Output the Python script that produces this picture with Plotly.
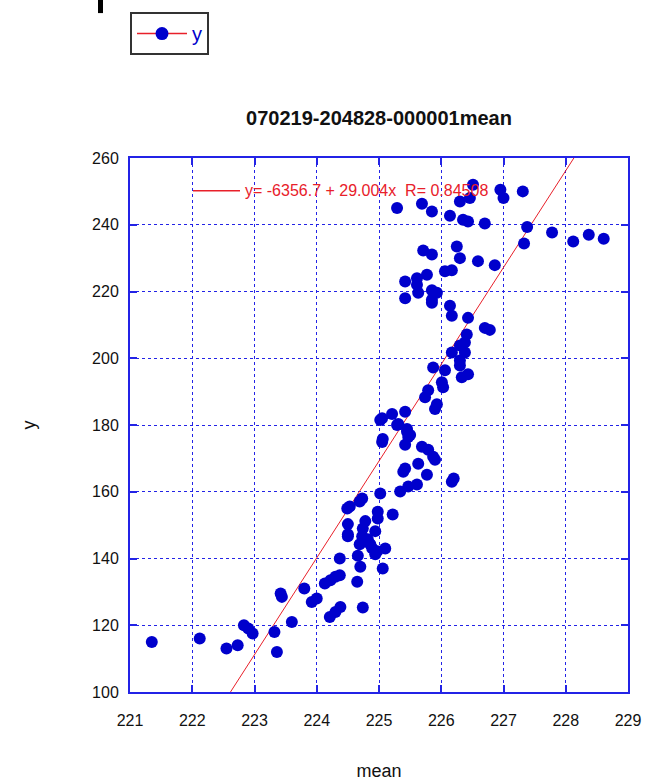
import plotly.graph_objects as go

# ---- data ----
mean_vals = [
    221.35, 222.12, 222.55, 222.73, 222.83, 222.90, 222.97, 223.32, 223.36, 223.42,
    223.44, 223.60, 223.80, 223.92, 224.00,
    224.13, 224.22, 224.30, 224.37, 224.37, 224.21, 224.30, 224.38, 224.50, 224.66,
    224.70, 224.65, 224.74, 225.10, 225.06, 224.86, 224.94, 224.50, 224.50, 224.78,
    224.74, 224.73, 224.82, 224.94, 224.69, 224.89, 224.97, 224.49, 224.53, 224.73,
    224.69, 224.98, 224.98, 225.22, 225.02,
    225.34, 225.47, 225.61, 226.17, 226.20, 225.77, 225.63, 225.42, 225.39, 225.69,
    225.79, 225.87, 225.90, 225.42, 225.06, 225.05, 225.45, 225.47, 225.29, 225.02,
    225.05, 225.21, 225.42, 225.31, 225.45, 225.50,
    225.90, 225.93, 225.74, 225.79, 226.01, 226.03, 225.87, 226.06, 226.33, 226.43,
    226.30, 226.30, 226.17, 226.38, 226.30, 226.38, 226.41, 226.70, 226.78, 226.43,
    226.17, 226.14, 225.85,
    225.85, 225.42, 225.63, 225.93, 225.85, 225.61, 225.42, 225.61, 225.77, 226.06,
    226.17, 226.86, 226.59, 226.30, 225.85, 225.71, 226.25, 227.33, 227.38,
    225.29, 225.69, 225.85, 226.14, 226.35, 226.43, 226.70, 226.30, 226.46, 226.51,
    226.95, 227.00, 227.31, 227.78, 228.12, 228.37, 228.61,
]
y_vals = [
    115.0, 116.0, 113.0, 114.0, 120.0, 119.0, 117.5, 118.0, 112.0, 129.5,
    128.5, 121.0, 131.0, 127.0, 128.0,
    132.5, 133.5, 134.5, 135.0, 140.0, 122.5, 124.0, 125.5, 146.7, 140.8,
    137.5, 133.0, 125.3, 143.0, 137.0, 144.3, 141.3, 150.3, 147.3, 151.2,
    149.0, 146.7, 145.8, 148.2, 144.3, 143.1, 142.2, 155.0, 155.6, 158.0,
    157.1, 154.0, 152.0, 153.2, 159.5,
    160.1, 161.6, 162.2, 163.0, 164.0, 165.1, 168.4, 167.0, 166.0, 173.5,
    172.6, 170.5, 169.6, 174.1, 175.8, 174.9, 178.0, 176.4, 180.0, 181.5,
    182.0, 183.3, 184.0, 180.3, 178.8, 177.0,
    184.8, 186.2, 188.3, 190.4, 192.8, 191.3, 197.2, 196.4, 194.3, 195.2,
    197.8, 199.3, 201.7, 201.7, 203.8, 204.7, 207.1, 209.1, 208.5, 212.1,
    212.7, 215.7, 216.6,
    217.5, 218.0, 219.6, 219.6, 220.4, 222.0, 223.0, 224.0, 225.0, 226.1,
    226.4, 227.9, 229.1, 230.0, 231.1, 232.3, 233.5, 234.4, 239.3,
    245.0, 246.3, 244.0, 242.7, 241.5, 241.0, 240.4, 247.0, 248.0, 252.0,
    250.5, 248.0, 250.0, 237.7, 235.0, 237.0, 235.8,
]
fit_intercept = -6356.7
fit_slope = 29.004
fit_r = 0.84508
x_ticks = [221, 222, 223, 224, 225, 226, 227, 228, 229]
y_ticks = [100, 120, 140, 160, 180, 200, 220, 240, 260]
title_text = "070219-204828-000001mean"

BLUE = "#0000CC"
AX_BLUE = "#2323E6"
RED = "#E8202A"
FONT = "Liberation Sans, Arial"

fit_x = [x_ticks[0], x_ticks[-1]]
fit_y = [fit_intercept + fit_slope * v for v in fit_x]

fig = go.Figure()
fig.add_trace(go.Scatter(
    x=fit_x, y=fit_y, mode="lines",
    line=dict(color=RED, width=1), showlegend=False, hoverinfo="skip",
))
fig.add_trace(go.Scatter(
    x=mean_vals, y=y_vals, mode="markers",
    marker=dict(color=BLUE, size=12, line=dict(width=0)),
    showlegend=False, name="y",
))
# legend entry (red line with blue marker)
fig.add_trace(go.Scatter(
    x=[None], y=[None], mode="lines+markers", name="y",
    line=dict(color=RED, width=1.5), marker=dict(color=BLUE, size=13),
    showlegend=True,
))

axis_common = dict(
    showline=True, linecolor=AX_BLUE, linewidth=2, mirror="allticks",
    ticks="inside", ticklen=7, tickwidth=2, tickcolor=AX_BLUE,
    showgrid=True, gridcolor=AX_BLUE, gridwidth=1, griddash="dot",
    zeroline=False, automargin=False,
    tickfont=dict(family=FONT, size=16, color="#111111"),
)
fig.update_xaxes(range=[x_ticks[0], x_ticks[-1]], tickvals=x_ticks,
                 title=dict(text="mean", font=dict(family=FONT, size=18, color="#111111"), standoff=36),
                 ticklabelstandoff=13, **axis_common)
fig.update_yaxes(range=[y_ticks[0], y_ticks[-1]], tickvals=y_ticks,
                 title=dict(text="y", font=dict(family=FONT, size=18, color="#111111"), standoff=52),
                 ticklabelstandoff=6, **axis_common)

eq_text = f"y= {fit_intercept} + {fit_slope}x  R= {fit_r}"
fig.add_annotation(xref="paper", yref="paper", x=(243 - 130) / 498, y=(692 - 187) / 538,
                   xanchor="left", yanchor="middle", showarrow=False, text=eq_text,
                   font=dict(family=FONT, size=16, color=RED))
fig.add_shape(type="line", xref="paper", yref="paper",
              x0=(193 - 130) / 498, x1=(240 - 130) / 498,
              y0=(692 - 187) / 538, y1=(692 - 187) / 538,
              line=dict(color=RED, width=1.5))
fig.add_shape(type="rect", xref="paper", yref="paper",
              x0=(98 - 130) / 498, x1=(103 - 130) / 498,
              y0=(692 - 8) / 538, y1=692 / 538 + 0.01,
              fillcolor="black", line=dict(width=0))

fig.update_layout(
    width=647, height=782,
    margin=dict(l=130, r=19, t=153, b=90),
    paper_bgcolor="white", plot_bgcolor="white",
    title=dict(text=f"<b>{title_text}</b>", x=379 / 647, xanchor="center",
               y=1 - 118 / 782, yanchor="middle", yref="container",
               font=dict(family=FONT, size=20, color="#111111")),
    legend=dict(x=0, y=(692 - 7) / 538, xanchor="left", yanchor="top",
                bordercolor="#333333", borderwidth=2, bgcolor="white",
                itemwidth=50,
                font=dict(family=FONT, size=20, color=BLUE)),
    showlegend=True,
)

fig.write_html("out.html")
